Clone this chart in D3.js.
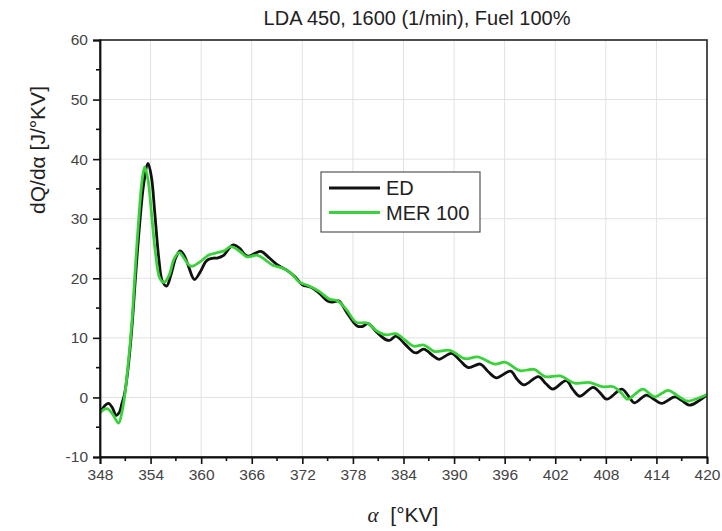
<!DOCTYPE html>
<html><head><meta charset="utf-8">
<script src="https://cdn.jsdelivr.net/npm/d3@7"></script>
<style>body{margin:0;background:#fff}svg{display:block}</style>
</head><body>
<svg id="c" width="722" height="531"></svg>
<script>
const xTicks = [348,354,360,366,372,378,384,390,396,402,408,414,420];
const yTicks = [-10,0,10,20,30,40,50,60];
const seriesNames = ["ED","MER 100"];
const edAlpha = [348.0,348.5,349.0,349.5,349.9,350.3,350.6,350.9,351.3,351.8,352.2,352.7,353.2,353.7,354.1,354.5,355.0,355.4,355.9,356.4,357.0,357.5,358.0,358.5,359.2,359.9,360.5,360.9,361.5,361.9,362.7,363.3,363.8,364.6,365.1,365.6,366.4,367.1,368.1,369.1,370.1,371.1,372.0,373.0,374.0,375.0,375.6,376.3,377.3,378.5,379.1,379.8,380.8,381.9,382.4,383.1,384.2,385.2,385.6,386.4,387.5,388.2,389.7,390.7,391.7,393.1,394.0,395.0,396.7,397.5,398.3,400.0,400.9,401.7,403.3,404.1,404.9,406.5,407.3,408.1,409.9,410.7,411.4,412.8,413.7,414.6,416.2,417.0,417.9,419.0,420.0];
const edValue = [-2.6,-1.5,-1.0,-1.8,-3.0,-2.5,-1.0,0.5,4.5,12,20,29,36,39.3,37,31,23,19.5,18.7,20.5,23.5,24.6,23.8,22.0,19.8,21.1,22.7,23.2,23.4,23.4,23.9,25.0,25.6,25.0,24.1,23.7,24.2,24.5,23.4,22.2,21.4,20.3,18.9,18.5,17.5,16.2,16.0,16.2,14.2,12.0,11.9,12.4,11.0,9.7,9.6,10.3,8.9,7.6,7.5,8.1,7.0,6.4,7.4,6.2,5.0,5.6,4.4,3.3,4.4,3.0,2.1,3.5,2.3,1.4,2.8,1.3,0.2,1.7,0.8,-0.3,1.4,0.2,-0.9,0.4,-0.3,-1.0,0.1,-0.5,-1.3,-0.6,0.4];
const merAlpha = [348.0,348.5,348.9,349.5,350.2,350.6,350.9,351.3,351.8,352.2,352.7,353.0,353.3,353.7,354.1,354.6,355.1,355.6,356.2,356.8,357.4,358.0,358.5,358.9,359.9,360.9,361.9,362.7,363.5,364.6,365.4,366.0,366.6,367.3,368.5,369.7,370.7,371.6,372.8,374.0,375.2,376.2,377.3,378.4,379.7,380.8,381.9,383.1,384.2,385.2,386.4,387.7,389.5,391.3,392.8,394.8,396.1,397.8,399.5,400.8,402.6,404.3,406.1,407.6,408.9,409.8,410.6,411.5,412.4,413.8,415.4,416.5,417.7,419.0,420.0];
const merValue = [-2.5,-2.0,-1.9,-2.8,-4.3,-2.5,0,5,13,22,32,36.5,38.7,36.5,31,24,20,19.3,20.5,23.3,24.3,23.3,22.3,22.0,22.8,23.9,24.3,24.6,25.3,24.5,23.6,23.7,23.9,23.4,22.2,21.7,20.8,19.4,18.7,17.8,16.5,16.2,14.6,12.6,12.5,11.2,10.5,10.7,9.6,8.6,8.8,7.7,7.9,6.5,6.8,5.6,5.9,4.5,4.7,3.5,3.6,2.4,2.5,1.8,1.8,0.8,-0.3,0.6,1.4,0.1,1.2,0.3,-0.6,-0.1,0.5];

const svg = d3.select("#c");
const L=100, R=707, T=40, B=457;
const x = d3.scaleLinear().domain([348,420]).range([L,R]);
const y = d3.scaleLinear().domain([-10,60]).range([B,T]);
const font = "'Liberation Sans', Arial, sans-serif";

// grid
svg.append("g").selectAll("line").data(xTicks.slice(1,-1)).join("line")
  .attr("x1",d=>x(d)).attr("x2",d=>x(d)).attr("y1",T).attr("y2",B)
  .attr("stroke","#e2e2e2").attr("stroke-width",1);
svg.append("g").selectAll("line").data(yTicks.slice(1,-1)).join("line")
  .attr("y1",d=>y(d)).attr("y2",d=>y(d)).attr("x1",L).attr("x2",R)
  .attr("stroke","#e2e2e2").attr("stroke-width",1);

// lines
const line = d3.line().x(d=>x(d[0])).y(d=>y(d[1])).curve(d3.curveCatmullRom.alpha(0.5));
const ed = edAlpha.map((a,i)=>[a,edValue[i]]);
const mer = merAlpha.map((a,i)=>[a,merValue[i]]);
svg.append("clipPath").attr("id","cp").append("rect").attr("x",L).attr("y",T).attr("width",R-L).attr("height",B-T);
svg.append("path").datum(ed).attr("d",line).attr("fill","none").attr("stroke","#111").attr("stroke-width",2.8).attr("clip-path","url(#cp)");
svg.append("path").datum(mer).attr("d",line).attr("fill","none").attr("stroke","#3ad23a").attr("stroke-width",2.8).attr("clip-path","url(#cp)");

// frame
svg.append("rect").attr("x",L).attr("y",T).attr("width",R-L).attr("height",B-T)
  .attr("fill","none").attr("stroke","#222").attr("stroke-width",1.6);

// axes
const fmt = d=>String(d);
const xAxis = d3.axisBottom(x).tickValues(xTicks).tickSize(7).tickPadding(5).tickFormat(fmt);
const gx = svg.append("g").attr("transform",`translate(0,${B})`).call(xAxis);
const yAxis = d3.axisLeft(y).tickValues(yTicks).tickSize(7).tickPadding(5).tickFormat(fmt);
const gy = svg.append("g").attr("transform",`translate(${L},0)`).call(yAxis);
[gx,gy].forEach(g=>{
  g.select(".domain").attr("stroke","#111").attr("stroke-width",1.8);
  g.selectAll(".tick line").attr("stroke","#111").attr("stroke-width",1.6);
  g.selectAll(".tick text").attr("font-family",font).attr("font-size",15.5).attr("fill","#444");
});
// minor ticks
const xMinor = d3.range(351,420,6);
svg.append("g").selectAll("line").data(xMinor).join("line")
  .attr("x1",d=>x(d)).attr("x2",d=>x(d)).attr("y1",B).attr("y2",B+4)
  .attr("stroke","#111").attr("stroke-width",1.6);
const yMinor = d3.range(-5,60,10);
svg.append("g").selectAll("line").data(yMinor).join("line")
  .attr("y1",d=>y(d)).attr("y2",d=>y(d)).attr("x1",L-4).attr("x2",L)
  .attr("stroke","#111").attr("stroke-width",1.6);

// title
svg.append("text").attr("x",417).attr("y",25).attr("text-anchor","middle")
  .attr("font-family",font).attr("font-size",20).attr("fill","#222")
  .text("LDA 450, 1600 (1/min), Fuel 100%");

// y label
svg.append("text").attr("transform","translate(45,150) rotate(-90)").attr("text-anchor","middle")
  .attr("font-family",font).attr("font-size",21).attr("fill","#222")
  .text("dQ/dα [J/°KV]");

// x label
const xl = svg.append("text").attr("x",403).attr("y",522).attr("text-anchor","middle")
  .attr("font-family",font).attr("font-size",21).attr("fill","#222");
xl.append("tspan").attr("font-family","'Liberation Serif', serif").attr("font-style","italic").text("α");
xl.append("tspan").text("\u00a0\u00a0[°KV]");

// legend
const lg = svg.append("g");
lg.append("rect").attr("x",321).attr("y",172).attr("width",159).attr("height",60)
  .attr("fill","#fff").attr("stroke","#555").attr("stroke-width",1.2);
const colors = ["#111","#3ad23a"];
seriesNames.forEach((n,i)=>{
  const yy = 188 + i*24.5;
  lg.append("line").attr("x1",329).attr("x2",380).attr("y1",yy).attr("y2",yy)
    .attr("stroke",colors[i]).attr("stroke-width",2.8);
  lg.append("text").attr("x",386).attr("y",yy+7).attr("font-family",font)
    .attr("font-size",20).attr("fill","#222").text(n);
});
</script>
</body></html>
